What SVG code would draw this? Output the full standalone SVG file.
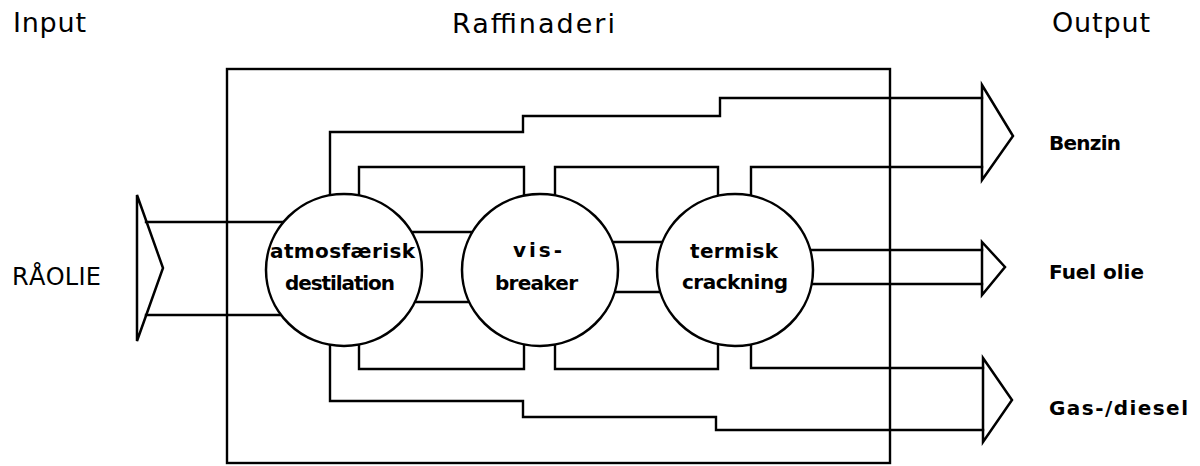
<svg xmlns="http://www.w3.org/2000/svg" width="1200" height="466" viewBox="0 0 1200 466">
<style>
.ln{fill:none;stroke:#000;stroke-width:2.4;stroke-linejoin:miter;stroke-linecap:square}
.nd{fill:#fff;stroke:#000;stroke-width:2.5}
.ar{fill:none;stroke:#000;stroke-width:2.5;stroke-linejoin:miter}
.hd{font-family:"DejaVu Sans","Liberation Sans",sans-serif;font-size:27px;fill:#000}
.rl{font-family:"DejaVu Sans","Liberation Sans",sans-serif;font-size:24px;fill:#000}
.lb{font-family:"DejaVu Sans","Liberation Sans",sans-serif;font-size:20px;font-weight:bold;fill:#000}
.ct{font-family:"DejaVu Sans","Liberation Sans",sans-serif;font-size:20px;font-weight:bold;fill:#000}
</style>
<rect width="1200" height="466" fill="#fff"/>
<g id="titles">
<text class="hd" x="13" y="32" textLength="73">Input</text>
<text class="hd" x="452" y="33" textLength="163">Raffinaderi</text>
<text class="hd" x="1052" y="32" textLength="98">Output</text>
</g>
<g id="raffinaderi">
<rect class="ln" x="227" y="69" width="663" height="394"/>
</g>
<g id="connectors">
<path class="ln" d="M146 222H344M146 315H344"/>
<path class="ln" d="M344 232H540M344 302H540M540 242H735M540 292H735"/>
<path class="ln" d="M735 250H982M735 284H982"/>
<path class="ln" d="M330 200V132H523V116H720V98H982"/>
<path class="ln" d="M359 200V167H524V200M555 200V167H718V200M751 200V167H982"/>
<path class="ln" d="M359 340V369H524V340M555 340V369H718V340M751 340V368H983"/>
<path class="ln" d="M330 340V401H523V417H716V430H983"/>
</g>
<g id="node-raolie">
<path class="ar" d="M137 195L163 268L137 341Z"/>
<text class="rl" x="12" y="285" textLength="89">RÅOLIE</text>
</g>
<g id="node-atmosfaerisk">
<ellipse class="nd" cx="344" cy="270" rx="78" ry="76"/>
<text class="ct" x="270" y="258" textLength="145">atmosfærisk</text>
<text class="ct" x="285" y="290" textLength="110">destilation</text>
</g>
<g id="node-visbreaker">
<ellipse class="nd" cx="540" cy="270" rx="78" ry="76"/>
<text class="ct" x="513" y="257" textLength="49">vis-</text>
<text class="ct" x="495" y="290" textLength="83">breaker</text>
</g>
<g id="node-termisk">
<ellipse class="nd" cx="735" cy="270" rx="78" ry="76"/>
<text class="ct" x="690" y="258" textLength="88">termisk</text>
<text class="ct" x="682" y="289" textLength="106">crackning</text>
</g>
<g id="node-benzin">
<path class="ar" d="M982 85L1013 136L982 180Z"/>
<text class="lb" x="1049" y="150" textLength="72">Benzin</text>
</g>
<g id="node-fuel">
<path class="ar" d="M982 242L1005 267L982 295Z"/>
<text class="lb" x="1049" y="279" textLength="95">Fuel olie</text>
</g>
<g id="node-gas">
<path class="ar" d="M983 358L1012 400L983 442Z"/>
<text class="lb" x="1049" y="415" textLength="139">Gas-/diesel</text>
</g>
</svg>
